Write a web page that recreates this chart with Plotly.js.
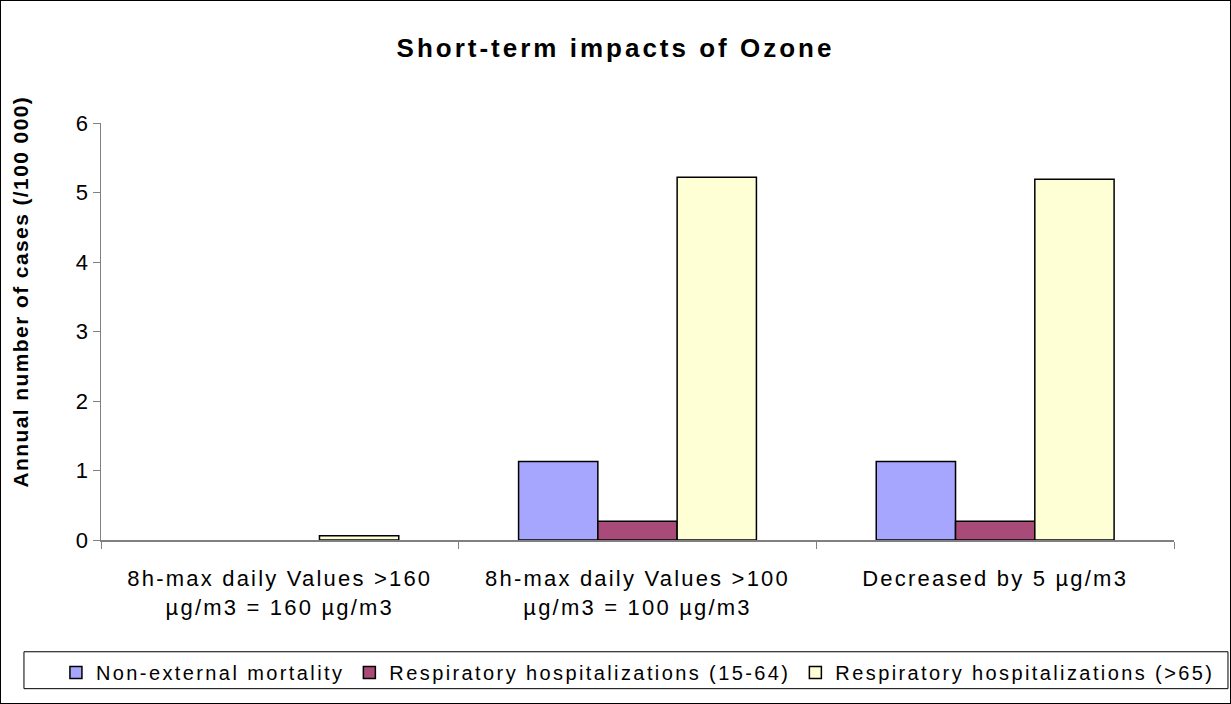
<!DOCTYPE html>
<html>
<head>
<meta charset="utf-8">
<script src="https://cdn.plot.ly/plotly-3.0.1.min.js"></script>
<style>
html,body{margin:0;padding:0;background:#fff;}
#chart{width:1231px;height:704px;box-sizing:border-box;border:1px solid #000;}
.gtitle{letter-spacing:3px;}
.legendtext{letter-spacing:2.4px;}
.xtick text{letter-spacing:2.2px;}
.annotation-text{letter-spacing:1.4px;}
</style>
</head>
<body>
<div id="chart"></div>
<script>
var categories = [
  "8h-max daily Values >160<br>µg/m3 = 160 µg/m3",
  "8h-max daily Values >100<br>µg/m3 = 100 µg/m3",
  "Decreased by 5 µg/m3"
];
var seriesNames = [
  "Non-external mortality",
  "Respiratory hospitalizations (15-64)",
  "Respiratory hospitalizations (>65)"
];
var mortality = [0, 1.13, 1.13];
var respHosp1564 = [0, 0.27, 0.27];
var respHosp65 = [0.06, 5.22, 5.19];
var colors = ["#A6A6FF", "#A84B78", "#FFFFD5"];
var yAxisTitle = "Annual number of cases (/100 000)";

var seriesValues = [mortality, respHosp1564, respHosp65];
var traces = seriesValues.map(function(vals, i){
  return {
    type: "bar",
    name: seriesNames[i],
    x: categories,
    y: vals,
    marker: {
      color: colors[i],
      line: {color: "#000", width: vals.map(function(v){ return v > 0 ? 1.5 : 0; })}
    },
    hoverinfo: "y"
  };
});

var layout = {
  width: 1229, height: 702,
  margin: {l: 100, r: 56, t: 122, b: 162},
  paper_bgcolor: "#fff",
  plot_bgcolor: "#fff",
  font: {family: "Arial, Liberation Sans, sans-serif", color: "#000"},
  title: {text: "<b>Short-term impacts of Ozone</b>", font: {size: 26}, x: 0.5, xanchor: "center", y: 0.933, yanchor: "middle"},
  barmode: "group",
  bargap: 0.335,
  bargroupgap: 0,
  showlegend: true,
  legend: {
    orientation: "h",
    x: -0.042, xanchor: "left",
    y: -0.268, yanchor: "top",
    borderwidth: 0,
    bgcolor: "rgba(0,0,0,0)",
    font: {size: 20},
    traceorder: "normal",
    itemwidth: 30
  },
  shapes: [{
    type: "rect", xref: "paper", yref: "paper",
    x0: -0.0718, x1: 1.0503, y0: -0.268, y1: -0.3565,
    line: {color: "#000", width: 1}, fillcolor: "rgba(0,0,0,0)", layer: "below"
  }],
  annotations: [{
    text: "<b>" + yAxisTitle + "</b>",
    xref: "paper", yref: "paper",
    x: -0.0755, y: 0.596,
    xanchor: "center", yanchor: "middle",
    textangle: -90, showarrow: false,
    font: {size: 21}
  }],
  xaxis: {
    type: "category",
    showline: true, linecolor: "#808080", linewidth: 1.5,
    ticks: "outside", tickson: "boundaries", ticklen: 7, tickcolor: "#808080",
    tickfont: {size: 22},
    ticklabelstandoff: 18,
    showgrid: false, zeroline: false
  },
  yaxis: {
    range: [0, 6], dtick: 1,
    showline: true, linecolor: "#808080", linewidth: 1.5,
    ticks: "outside", ticklen: 7, tickcolor: "#808080",
    tickfont: {size: 22},
    showgrid: false, zeroline: false
  }
};

function outlineLegend(){
  var pts = document.querySelectorAll("#chart .legendpoints path");
  pts.forEach(function(p){
    p.style.setProperty("stroke", "#000", "important");
    p.style.setProperty("stroke-width", "1.5px", "important");
  });
}
Plotly.newPlot("chart", traces, layout, {displayModeBar: false, staticPlot: true}).then(function(){
  outlineLegend();
  setTimeout(outlineLegend, 0);
});
</script>
</body>
</html>
